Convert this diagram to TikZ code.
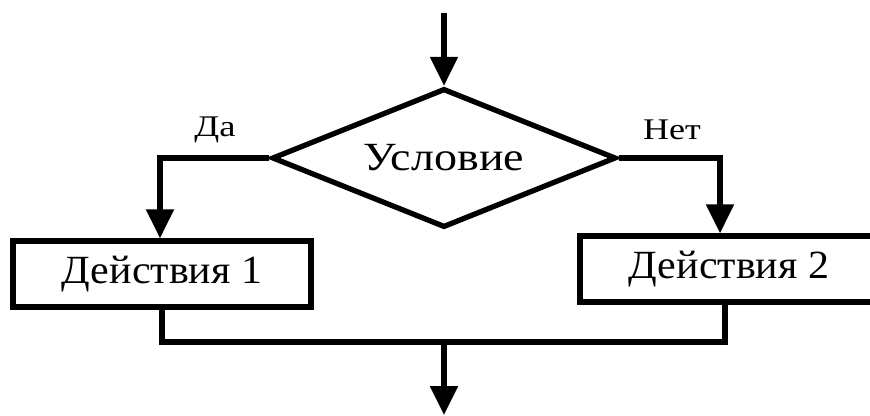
\documentclass[tikz,border=0pt]{standalone}
\usepackage{fontspec}
\setmainfont{Liberation Serif}
\usetikzlibrary{arrows.meta,shapes.geometric}
% widened lettering
\newcommand{\widetxt}[2][1.1]{\scalebox{#1}[1]{#2}}

\begin{document}
\begin{tikzpicture}[x=1pt,y=-1pt,>={Triangle[length=29pt,width=27pt]},line width=5.3pt,
    font=\fontsize{40}{46}\selectfont]
  \useasboundingbox (0,0) rectangle (870,415);
  \tikzset{
    condbox/.style={draw,diamond,aspect=2.47,minimum width=344pt,minimum height=139pt,inner sep=0pt},
    actbox/.style={draw,rectangle,minimum width=298pt,minimum height=66pt,inner sep=0pt},
    lbl/.style={font=\fontsize{30}{34}\selectfont}
  }
  \coordinate (entry) at (444,13);
  \node[condbox] (usl) at (444,158) {\widetxt[1.15]{Условие}};
  \node[actbox] (act1) at (162,274) {\widetxt[1.05]{Действия 1}};
  \node[actbox] (act2) at (729,269) {\widetxt[1.05]{Действия 2}};
  \node[lbl] (da) at (215,130) {\widetxt[1.22]{Да}};
  \node[lbl] (net) at (672,130) {\widetxt[1.2]{Нет}};
  \coordinate (merge) at (444,342);
  \coordinate (exit) at (444,415);

  \draw[->] (entry) -- (usl.north);
  \draw[->] (usl.west) -| ([xshift=-2pt]act1.north);
  \draw[->] (usl.east) -| ([xshift=-9pt]act2.north);
  \draw (act1.south) |- (merge) -| ([xshift=-4pt]act2.south);
  \draw[->] (merge) -- (exit);
\end{tikzpicture}
\end{document}
